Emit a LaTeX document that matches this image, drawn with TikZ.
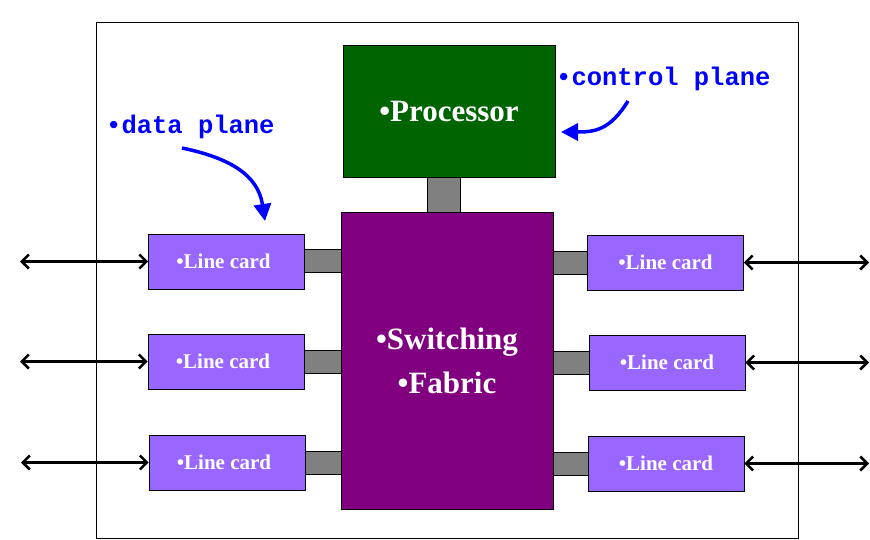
\documentclass[tikz,border=0pt]{standalone}
\usepackage{fontspec}
\setmainfont{Liberation Serif}
\newfontfamily\codefont{Liberation Mono}
\usetikzlibrary{arrows.meta}
\definecolor{procgreen}{RGB}{0,100,0}
\definecolor{fabpurple}{RGB}{128,0,128}
\definecolor{cardviolet}{RGB}{153,102,255}
\definecolor{linkgray}{RGB}{128,128,128}
\definecolor{noteblue}{RGB}{0,0,255}
\tikzset{
  box/.style={draw=black, line width=0.8pt, inner sep=0pt, text=white, font=\bfseries},
  procbox/.style={box, fill=procgreen, minimum width=212pt, minimum height=132pt, font=\bfseries\fontsize{31}{36}\selectfont},
  fabbox/.style={box, fill=fabpurple, minimum width=212pt, minimum height=297pt, align=center, font=\bfseries\fontsize{31}{44}\selectfont},
  cardbox/.style={box, fill=cardviolet, minimum width=156pt, minimum height=55pt, font=\bfseries\fontsize{21}{25}\selectfont},
  linkbox/.style={draw=black, line width=0.6pt, fill=linkgray, inner sep=0pt, minimum width=37pt, minimum height=23pt},
  note/.style={text=noteblue, font=\codefont\bfseries\fontsize{25.5}{30}\selectfont, inner sep=0pt},
  notearrow/.style={draw=noteblue, line width=3.5pt, -{Triangle[length=17pt,width=17pt]}},
  extarrow/.style={draw=black, line width=2.5pt, {Straight Barb[length=7pt,width=14pt]}-{Straight Barb[length=7pt,width=14pt]}}
}
\begin{document}
\begin{tikzpicture}[x=1pt,y=-1pt]
\useasboundingbox (0,0) rectangle (870,539);
\node[draw=black, line width=0.8pt, minimum width=702pt, minimum height=516pt, inner sep=0pt] (frame) at (447,280) {};
% links (behind)
\node[linkbox, minimum width=33pt, minimum height=36pt] (lp) at (443.5,194.5) {};
\node[linkbox] (ll1) at (322.5,260.5) {};
\node[linkbox] (ll2) at (322.5,361.5) {};
\node[linkbox] (ll3) at (323,462.5) {};
\node[linkbox] (lr1) at (569.5,262.5) {};
\node[linkbox] (lr2) at (571,363) {};
\node[linkbox] (lr3) at (570,463.5) {};
% main boxes
\node[procbox] (proc) at (449,111) {•Processor};
\node[fabbox] (fab) at (447,360.5) {•Switching\\•Fabric};
\node[cardbox] (c1) at (226.5,261.5) {\hspace*{-6pt}•Line card};
\node[cardbox] (c2) at (226,361.5) {\hspace*{-6pt}•Line card};
\node[cardbox] (c3) at (227,462.5) {\hspace*{-6pt}•Line card};
\node[cardbox] (d1) at (665.5,262.5) {•Line card};
\node[cardbox] (d2) at (667,362.5) {•Line card};
\node[cardbox] (d3) at (666,463.5) {•Line card};
% external arrows
\coordinate (e1) at (20,261.5);
\coordinate (e2) at (20,361.5);
\coordinate (e3) at (21,462.5);
\coordinate (f1) at (869,262.5);
\coordinate (f2) at (869,362.5);
\coordinate (f3) at (869,463.5);
\draw[extarrow] (e1) -- (c1.west);
\draw[extarrow] (e2) -- (c2.west);
\draw[extarrow] (e3) -- (c3.west);
\draw[extarrow] (d1.east) -- (f1);
\draw[extarrow] (d2.east) -- (f2);
\draw[extarrow] (d3.east) -- (f3);
% notes
\node[note, anchor=west] (dp) at (106,127) {•data plane};
\node[note, anchor=west] (cp) at (556,79) {•control plane};
\coordinate (dps) at (182,148);
\coordinate (dpe) at (265,221);
\coordinate (cps) at (628,101);
\coordinate (cpe) at (561,132);
\draw[notearrow] (dps) .. controls (230,158) and (258,175) .. (dpe);
\draw[notearrow] (cps) .. controls (610,130) and (595,132) .. (cpe);
\end{tikzpicture}
\end{document}
